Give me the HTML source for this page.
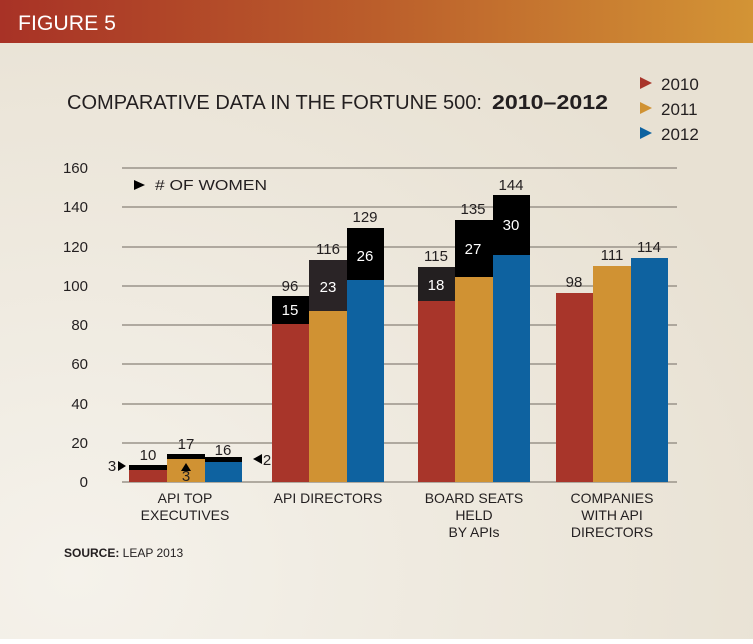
<!DOCTYPE html>
<html><head><meta charset="utf-8"><style>
body{margin:0;width:753px;height:639px;overflow:hidden;font-family:"Liberation Sans",sans-serif}
svg text{font-family:"Liberation Sans",sans-serif}
</style></head><body>
<svg width="753" height="639" xmlns="http://www.w3.org/2000/svg">
<defs>
<linearGradient id="h" x1="0" x2="1"><stop offset="0" stop-color="#a83226"/><stop offset="0.5" stop-color="#bb5e2b"/><stop offset="1" stop-color="#d39435"/></linearGradient>
<radialGradient id="bg" cx="0.1" cy="0.9" r="1"><stop offset="0" stop-color="#f5f2eb"/><stop offset="1" stop-color="#e8e1d3"/></radialGradient>
</defs>
<rect width="753" height="639" fill="url(#bg)"/>
<rect width="753" height="43" fill="url(#h)"/>
<text x="18" y="30" fill="#fff" font-size="21" textLength="98" lengthAdjust="spacingAndGlyphs">FIGURE 5</text>
<text x="67" y="109" fill="#231f20" font-size="20" textLength="415" lengthAdjust="spacingAndGlyphs">COMPARATIVE DATA IN THE FORTUNE 500:</text>
<text x="492" y="109" fill="#231f20" font-size="20" font-weight="bold" textLength="116" lengthAdjust="spacingAndGlyphs">2010–2012</text>
<polygon points="640,77 652,83 640,89" fill="#a8352a"/><text x="661" y="90" font-size="17" fill="#231f20">2010</text>
<polygon points="640,102 652,108 640,114" fill="#d09233"/><text x="661" y="115" font-size="17" fill="#231f20">2011</text>
<polygon points="640,127 652,133 640,139" fill="#0e62a0"/><text x="661" y="140" font-size="17" fill="#231f20">2012</text>
<g stroke="#9a938a" stroke-width="1.5">
<line x1="122" y1="168" x2="677" y2="168"/><line x1="122" y1="207" x2="677" y2="207"/><line x1="122" y1="247" x2="677" y2="247"/><line x1="122" y1="286" x2="677" y2="286"/><line x1="122" y1="325" x2="677" y2="325"/><line x1="122" y1="364" x2="677" y2="364"/><line x1="122" y1="404" x2="677" y2="404"/><line x1="122" y1="443" x2="677" y2="443"/><line x1="122" y1="482" x2="677" y2="482"/>
</g>
<g font-size="15" fill="#231f20" text-anchor="end">
<text x="88" y="173">160</text><text x="88" y="212">140</text><text x="88" y="252">120</text><text x="88" y="291">100</text><text x="88" y="330">80</text><text x="88" y="369">60</text><text x="88" y="409">40</text><text x="88" y="448">20</text><text x="88" y="487">0</text>
</g>
<polygon points="134,180 145,185 134,190" fill="#000"/>
<text x="155" y="190" font-size="15" fill="#231f20" textLength="112" lengthAdjust="spacingAndGlyphs"># OF WOMEN</text>
<!-- group1 -->
<rect x="129" y="469" width="38" height="13" fill="#a8352a"/><rect x="129" y="465" width="38" height="5" fill="#000"/>
<rect x="167" y="458" width="38" height="24" fill="#d09233"/><rect x="167" y="454" width="38" height="5" fill="#000"/>
<rect x="205" y="461" width="37" height="21" fill="#0e62a0"/><rect x="205" y="457" width="37" height="5" fill="#000"/>
<polygon points="118,461 126,466 118,471" fill="#000"/><polygon points="253,454 262,459 253,464" fill="#000" transform="rotate(180 257.5 459)"/>
<polygon points="181,471 186,463 191,471" fill="#000"/>
<!-- group2 -->
<rect x="272" y="324" width="37" height="158" fill="#a8352a"/><rect x="272" y="296" width="37" height="28" fill="#000"/>
<rect x="309" y="311" width="38" height="171" fill="#d09233"/><rect x="309" y="260" width="38" height="51" fill="#2a2426"/>
<rect x="347" y="280" width="37" height="202" fill="#0e62a0"/><rect x="347" y="228" width="37" height="52" fill="#000"/>
<!-- group3 -->
<rect x="418" y="301" width="37" height="181" fill="#a8352a"/><rect x="418" y="267" width="37" height="34" fill="#231f20"/>
<rect x="455" y="277" width="38" height="205" fill="#d09233"/><rect x="455" y="220" width="38" height="57" fill="#000"/>
<rect x="493" y="255" width="37" height="227" fill="#0e62a0"/><rect x="493" y="195" width="37" height="60" fill="#000"/>
<!-- group4 -->
<rect x="556" y="293" width="37" height="189" fill="#a8352a"/>
<rect x="593" y="266" width="38" height="216" fill="#d09233"/>
<rect x="631" y="258" width="37" height="224" fill="#0e62a0"/>
<g font-size="15" fill="#231f20" text-anchor="middle">
<text x="148" y="460">10</text><text x="186" y="449">17</text><text x="223" y="455">16</text>
<text x="112" y="471">3</text><text x="186" y="481">3</text><text x="267" y="465">2</text>
<text x="290" y="291">96</text><text x="328" y="254">116</text><text x="365" y="222">129</text>
<text x="436" y="261">115</text><text x="473" y="214">135</text><text x="511" y="190">144</text>
<text x="574" y="287">98</text><text x="612" y="260">111</text><text x="649" y="252">114</text>
</g>
<g font-size="15" fill="#fff" text-anchor="middle">
<text x="290" y="315">15</text><text x="328" y="292">23</text><text x="365" y="261">26</text>
<text x="436" y="290">18</text><text x="473" y="254">27</text><text x="511" y="230">30</text>
</g>
<g font-size="14" fill="#231f20" text-anchor="middle">
<text x="185" y="503">API TOP</text><text x="185" y="520">EXECUTIVES</text>
<text x="328" y="503">API DIRECTORS</text>
<text x="474" y="503">BOARD SEATS</text><text x="474" y="520">HELD</text><text x="474" y="537">BY APIs</text>
<text x="612" y="503">COMPANIES</text><text x="612" y="520">WITH API</text><text x="612" y="537">DIRECTORS</text>
</g>
<text x="64" y="557" font-size="12" fill="#231f20"><tspan font-weight="bold">SOURCE:</tspan> LEAP 2013</text>
</svg>
</body></html>
